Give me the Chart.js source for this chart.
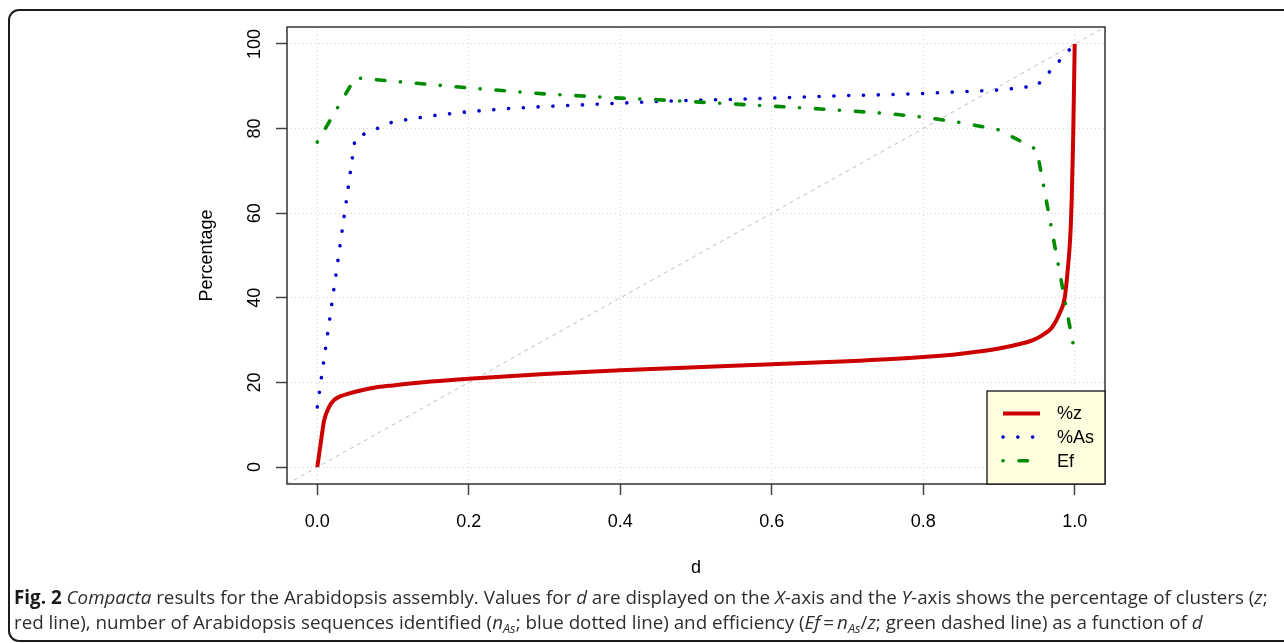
<!DOCTYPE html>
<html>
<head>
<meta charset="utf-8">
<title>Compacta results</title>
<script src="https://cdn.jsdelivr.net/npm/chart.js@4/dist/chart.umd.min.js"></script>
<style>
    html, body { margin: 0; padding: 0; background: #fff; }
    #wrap { position: relative; width: 1284px; height: 643px; overflow: hidden; }
    #frame { position: absolute; left: 8px; top: 9px; width: 1300px; height: 629px;
             border: 2px solid #1c1c1c; border-radius: 11px; }
    #chart { position: absolute; left: 0; top: 0; }
    #caption { position: absolute; left: 14px; top: 585px; font-family: 'Open Sans', sans-serif;
               font-size: 16.5px; line-height: 25px; color: #2e2e2e; white-space: nowrap; }
    #caption b { color: #1a1a1a; }
    #caption sub { font-size: 68%; vertical-align: -0.3em; line-height: 0; }
</style>
</head>
<body>
<div id="wrap">
    <div id="frame"></div>
    <canvas id="chart" width="1284" height="643"></canvas>
    <div id="caption">
        <span id="capLine1"><b>Fig. 2</b> <i>Compacta</i> results for the Arabidopsis assembly. Values for <i>d</i> are displayed on the <i>X</i>-axis and the <i>Y</i>-axis shows the percentage of clusters (<i>z</i>;</span><br>
        <span>red line), number of Arabidopsis sequences identified (<i>n</i><sub><i>As</i></sub>; blue dotted line) and efficiency (<i>Ef</i>&thinsp;=&thinsp;<i>n</i><sub><i>As</i></sub>/<i>z</i>; green dashed line) as a function of <i>d</i></span>
    </div>
</div>
<script>
// Values
var dZ   = [0, 0.004, 0.009, 0.015, 0.022, 0.03, 0.04, 0.06, 0.08, 0.1,
            0.15, 0.2, 0.3, 0.4, 0.5, 0.6, 0.7, 0.8, 0.85, 0.9,
            0.93, 0.945, 0.96, 0.97, 0.98, 0.987, 0.991, 0.994, 0.996, 0.998, 1.0];
var pctZ = [0, 5, 11, 14, 15.8, 16.7, 17.3, 18.2, 18.9, 19.3,
            20.2, 20.9, 22, 22.9, 23.6, 24.3, 25, 26, 26.8, 28,
            29.2, 30, 31.5, 33, 36.3, 40.2, 47, 54, 63, 78, 100];

var dStep = [0, 0.05, 0.1, 0.15, 0.2, 0.25, 0.3, 0.35, 0.4, 0.45, 0.5,
             0.55, 0.6, 0.65, 0.7, 0.75, 0.8, 0.85, 0.9, 0.95, 1.0];
var pctAs = [14.2, 77.8, 81.6, 83.0, 84.0, 84.7, 85.2, 85.6, 86.0, 86.4, 86.7,
             86.9, 87.2, 87.5, 87.8, 88.0, 88.3, 88.7, 89.1, 90.1, 100];
var efficiency = [76.8, 92.0, 91.2, 90.4, 89.6, 88.9, 88.2, 87.7, 87.2, 86.8, 86.3,
                  85.8, 85.3, 84.8, 84.2, 83.6, 82.7, 81.4, 79.7, 75.0, 27.0];

// reference line y = 100 * d, corner to corner
var diagD = [-0.04, 1.04];
var diagY = [-4, 104];

var xTicks = [0, 0.2, 0.4, 0.6, 0.8, 1.0];
var xTickLabels = ['0.0', '0.2', '0.4', '0.6', '0.8', '1.0'];
var yTicks = [0, 20, 40, 60, 80, 100];
var yTickLabels = ['0', '20', '40', '60', '80', '100'];
var legendLabels = ['%z', '%As', 'Ef'];

var axisFont = '18px "Liberation Sans", Arial, sans-serif';

function toPoints(xs, ys) {
    return xs.map(function(x, i) { return {x: x, y: ys[i]}; });
}

// Box, axis texts and the legend, drawn the way R does it
var rDecor = {
    id: 'rDecor',
    afterDatasetsDraw: function(chart) {
        var ctx = chart.ctx;
        var area = chart.chartArea;
        var xs = chart.scales.x, ys = chart.scales.y;
        ctx.save();

        ctx.strokeStyle = '#333';
        ctx.lineWidth = 1.5;
        ctx.strokeRect(area.left, area.top, area.right - area.left, area.bottom - area.top);

        ctx.fillStyle = '#000';
        ctx.font = axisFont;
        ctx.textAlign = 'center';
        ctx.textBaseline = 'alphabetic';
        xTicks.forEach(function(v, i) {
            ctx.fillText(xTickLabels[i], xs.getPixelForValue(v), 527);
        });
        yTicks.forEach(function(v, i) {
            ctx.save();
            ctx.translate(259.5, ys.getPixelForValue(v));
            ctx.rotate(-Math.PI / 2);
            ctx.fillText(yTickLabels[i], 0, 0);
            ctx.restore();
        });
        ctx.fillText('d', (area.left + area.right) / 2, 573);
        ctx.save();
        ctx.translate(212, (area.top + area.bottom) / 2);
        ctx.rotate(-Math.PI / 2);
        ctx.fillText('Percentage', 0, 0);
        ctx.restore();

        // legend, bottom right corner
        var lx = 987, ly = 391;
        ctx.fillStyle = '#FFFFE0';
        ctx.fillRect(lx, ly, area.right - lx, area.bottom - ly);
        ctx.strokeStyle = '#111';
        ctx.lineWidth = 1.3;
        ctx.strokeRect(lx, ly, area.right - lx, area.bottom - ly);
        legendLabels.forEach(function(lab, i) {
            var ds = chart.data.datasets.find(function(d) { return d.label === lab; });
            var y = 413.5 + i * 23.6;
            ctx.save();
            ctx.strokeStyle = ds.borderColor;
            ctx.lineWidth = ds.borderWidth;
            ctx.lineCap = ds.borderCapStyle || 'butt';
            ctx.setLineDash(ds.borderDash || []);
            ctx.beginPath();
            ctx.moveTo(1003, y);
            ctx.lineTo(1040, y);
            ctx.stroke();
            ctx.restore();
            ctx.fillStyle = '#000';
            ctx.textAlign = 'left';
            ctx.textBaseline = 'middle';
            ctx.fillText(lab, 1057, y + 1);
        });
        ctx.restore();
    }
};

var gridOpts = {
    color: '#d3d3d3',
    lineWidth: 1,
    drawTicks: true,
    tickLength: 11,
    tickColor: '#444',
    tickWidth: 1.5,
    tickBorderDash: []
};

var ctx = document.getElementById('chart').getContext('2d');
var chart = new Chart(ctx, {
    type: 'scatter',
    data: {
        datasets: [{
            label: '%z',
            data: toPoints(dZ, pctZ),
            borderColor: '#CD0000',
            borderWidth: 4,
            cubicInterpolationMode: 'monotone',
            order: 3
        }, {
            label: '%As',
            data: toPoints(dStep, pctAs),
            borderColor: '#0000CD',
            borderWidth: 3.6,
            borderDash: [0.1, 14.7],
            borderCapStyle: 'round',
            order: 2
        }, {
            label: 'Ef',
            data: toPoints(dStep, efficiency),
            borderColor: '#008B00',
            borderWidth: 3.6,
            borderDash: [0.1, 15.9, 8.5, 15.5],
            borderCapStyle: 'round',
            order: 1
        }, {
            label: 'diagonal',
            data: toPoints(diagD, diagY),
            borderColor: '#BEBEBE',
            borderWidth: 1,
            borderDash: [4, 4],
            order: 4
        }]
    },
    options: {
        responsive: false,
        animation: false,
        showLine: true,
        elements: {
            point: { radius: 0, hoverRadius: 0 },
            line: { tension: 0, fill: false }
        },
        layout: { padding: { left: 0, top: 27, right: 179, bottom: 0 } },
        plugins: {
            legend: { display: false },
            tooltip: { enabled: false }
        },
        scales: {
            x: {
                type: 'linear',
                min: -0.04,
                max: 1.04,
                afterBuildTicks: function(scale) {
                    scale.ticks = xTicks.map(function(v) { return {value: v}; });
                },
                afterFit: function(scale) { scale.height = 643 - 484; },
                ticks: { display: false },
                grid: gridOpts,
                border: { display: false, dash: [1, 3] }
            },
            y: {
                type: 'linear',
                min: -4,
                max: 104,
                afterBuildTicks: function(scale) {
                    scale.ticks = yTicks.map(function(v) { return {value: v}; });
                },
                afterFit: function(scale) { scale.width = 287; },
                ticks: { display: false },
                grid: gridOpts,
                border: { display: false, dash: [1, 3] }
            }
        }
    },
    plugins: [rDecor]
});

// fit the caption's first line to the frame width
var capLine1 = document.getElementById('capLine1');
var capBox = document.getElementById('caption');
var w = capLine1.getBoundingClientRect().width;
if (w > 0) {
    capBox.style.fontSize = (16.5 * 1254 / w).toFixed(2) + 'px';
}
</script>
</body>
</html>
